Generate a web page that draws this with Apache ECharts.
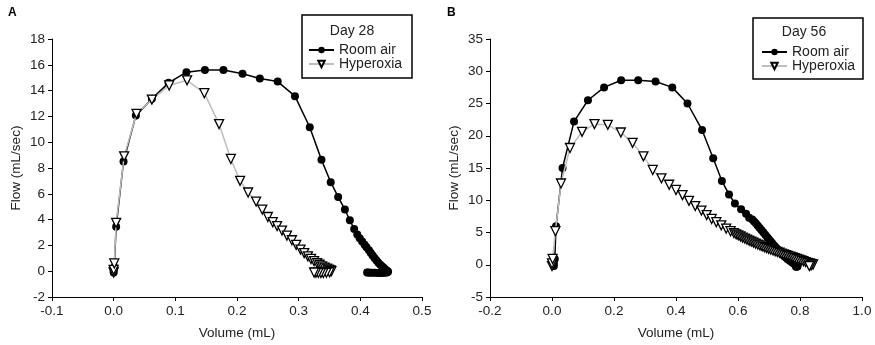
<!DOCTYPE html>
<html>
<head>
<meta charset="utf-8">
<script src="https://cdn.jsdelivr.net/npm/echarts@6/dist/echarts.min.js"></script>
<style>html,body{margin:0;padding:0;background:#fff}#c{width:875px;height:345px}</style>
</head>
<body>
<div id="c"></div>
<script>
// ---- Panel A: Day 28 ----
const vol28Room = [0, 0, 0.001, 0.004, 0.016, 0.036, 0.062, 0.089, 0.118, 0.148, 0.178, 0.209, 0.237, 0.266, 0.294, 0.318, 0.337, 0.352, 0.364, 0.375, 0.383, 0.390, 0.395, 0.399, 0.403, 0.407, 0.410, 0.414, 0.417, 0.420, 0.423, 0.426, 0.429, 0.432, 0.435, 0.438, 0.440, 0.442, 0.444, 0.445, 0.443, 0.440, 0.436, 0.432, 0.428, 0.424, 0.420, 0.416, 0.413, 0.411];
const flow28Room = [-0.1, 0.05, 0.3, 3.44, 8.5, 12.07, 13.36, 14.6, 15.43, 15.6, 15.6, 15.3, 14.94, 14.7, 13.57, 11.16, 8.63, 6.9, 5.76, 4.78, 3.95, 3.28, 2.85, 2.55, 2.3, 2.05, 1.85, 1.62, 1.42, 1.22, 1.03, 0.85, 0.68, 0.52, 0.38, 0.26, 0.16, 0.08, 0.02, -0.05, -0.1, -0.12, -0.13, -0.13, -0.13, -0.12, -0.12, -0.12, -0.11, -0.1];
const vol28Hyp = [0, 0, 0.001, 0.004, 0.017, 0.037, 0.062, 0.090, 0.119, 0.147, 0.171, 0.190, 0.205, 0.218, 0.231, 0.241, 0.250, 0.258, 0.265, 0.273, 0.281, 0.289, 0.296, 0.303, 0.309, 0.315, 0.320, 0.325, 0.330, 0.334, 0.338, 0.342, 0.346, 0.349, 0.352, 0.353, 0.350, 0.345, 0.340, 0.336, 0.332, 0.328, 0.325];
const flow28Hyp = [-0.1, 0.1, 0.6, 3.75, 8.9, 12.2, 13.3, 14.4, 14.8, 13.8, 11.4, 8.7, 7.0, 6.1, 5.4, 4.78, 4.2, 3.8, 3.5, 3.15, 2.76, 2.4, 2.04, 1.68, 1.4, 1.15, 0.95, 0.78, 0.62, 0.5, 0.38, 0.28, 0.2, 0.12, 0.06, 0.0, -0.08, -0.12, -0.14, -0.14, -0.13, -0.12, -0.1];

// ---- Panel B: Day 56 ----
const vol56Room = [0.006, 0.006, 0.009, 0.013, 0.034, 0.071, 0.116, 0.168, 0.223, 0.278, 0.334, 0.388, 0.437, 0.484, 0.520, 0.548, 0.571, 0.590, 0.610, 0.626, 0.636, 0.646, 0.652, 0.658, 0.664, 0.670, 0.676, 0.682, 0.688, 0.694, 0.700, 0.706, 0.712, 0.718, 0.724, 0.730, 0.736, 0.742, 0.748, 0.754, 0.760, 0.766, 0.772, 0.777, 0.782, 0.786, 0.789, 0.791, 0.792, 0.790, 0.787];
const flow56Room = [-0.2, 0.2, 0.9, 5.95, 15.0, 22.2, 25.5, 27.5, 28.6, 28.6, 28.4, 27.5, 25.0, 20.9, 16.5, 13.0, 10.9, 9.5, 8.6, 7.9, 7.3, 7.0, 6.7, 6.4, 6.05, 5.7, 5.35, 5.0, 4.65, 4.3, 3.95, 3.6, 3.25, 2.9, 2.58, 2.26, 1.95, 1.65, 1.37, 1.11, 0.87, 0.65, 0.45, 0.28, 0.12, 0.0, -0.1, -0.2, -0.25, -0.3, -0.3];
const vol56Hyp = [0, 0, 0.002, 0.011, 0.029, 0.058, 0.097, 0.137, 0.180, 0.222, 0.260, 0.295, 0.325, 0.353, 0.378, 0.400, 0.421, 0.442, 0.462, 0.482, 0.499, 0.515, 0.530, 0.546, 0.562, 0.576, 0.587, 0.594, 0.601, 0.608, 0.615, 0.622, 0.629, 0.636, 0.643, 0.650, 0.657, 0.664, 0.671, 0.678, 0.685, 0.692, 0.699, 0.706, 0.713, 0.720, 0.727, 0.734, 0.741, 0.748, 0.755, 0.762, 0.769, 0.776, 0.783, 0.790, 0.797, 0.804, 0.811, 0.818, 0.825, 0.832, 0.838, 0.842, 0.836, 0.830];
const flow56Hyp = [-0.2, 0.2, 0.9, 5.2, 12.6, 18.1, 20.6, 21.8, 21.7, 20.5, 18.9, 16.8, 14.7, 13.4, 12.4, 11.6, 10.8, 9.9, 9.1, 8.4, 7.7, 7.1, 6.6, 6.1, 5.6, 5.2, 4.9, 4.72, 4.55, 4.38, 4.21, 4.05, 3.89, 3.73, 3.58, 3.43, 3.28, 3.13, 2.99, 2.85, 2.72, 2.59, 2.46, 2.34, 2.22, 2.1, 1.98, 1.86, 1.74, 1.62, 1.5, 1.38, 1.26, 1.14, 1.02, 0.9, 0.78, 0.66, 0.54, 0.42, 0.3, 0.2, 0.1, 0.05, -0.1, -0.2];

const seriesNames = ['Room air', 'Hyperoxia'];
const legendTitles = ['Day 28', 'Day 56'];
const panelLabels = ['A', 'B'];
const xTicksA = {min: -0.1, max: 0.5, interval: 0.1};
const yTicksA = {min: -2, max: 18, interval: 2};
const xTicksB = {min: -0.2, max: 1.0, interval: 0.2};
const yTicksB = {min: -5, max: 35, interval: 5};

const zip = (xs, ys) => xs.map((x, i) => [x, ys[i]]);
const FONT = 'Liberation Sans, Arial, sans-serif';

function xAxisCfg(t, gi) {
  return {
    type: 'value', gridIndex: gi, min: t.min, max: t.max, interval: t.interval,
    name: 'Volume (mL)', nameLocation: 'middle', nameGap: 29,
    nameTextStyle: {fontFamily: FONT, fontSize: 13.5, color: '#222'},
    axisLine: {show: true, onZero: false, lineStyle: {color: '#000', width: 1}},
    axisTick: {show: true, length: 4, lineStyle: {color: '#000'}},
    axisLabel: {fontFamily: FONT, fontSize: 13.5, color: '#222', margin: 7,
      formatter: v => v.toFixed(1)},
    splitLine: {show: false}
  };
}
function yAxisCfg(t, gi) {
  return {
    type: 'value', gridIndex: gi, min: t.min, max: t.max, interval: t.interval,
    name: 'Flow (mL/sec)', nameLocation: 'middle', nameGap: 29,
    nameTextStyle: {fontFamily: FONT, fontSize: 13.5, color: '#222'},
    axisLine: {show: true, onZero: false, lineStyle: {color: '#000', width: 1}},
    axisTick: {show: true, length: 4, lineStyle: {color: '#000'}},
    axisLabel: {fontFamily: FONT, fontSize: 13.5, color: '#222', margin: 7,
      formatter: v => String(Math.round(v))},
    splitLine: {show: false}
  };
}
function roomSeries(data, gi) {
  return {
    name: seriesNames[0], type: 'line', xAxisIndex: gi, yAxisIndex: gi, data: data,
    symbol: 'circle', symbolSize: 8, showSymbol: true, animation: false,
    lineStyle: {color: '#000', width: 1.5},
    itemStyle: {color: '#000', borderColor: '#000', borderWidth: 0},
    z: 2
  };
}
function hypSeries(data, gi) {
  return {
    name: seriesNames[1], type: 'line', xAxisIndex: gi, yAxisIndex: gi, data: data,
    symbol: 'triangle', symbolRotate: 180, symbolSize: 9, showSymbol: true, animation: false,
    lineStyle: {color: '#bdbdbd', width: 1.5},
    itemStyle: {color: '#fff', borderColor: '#000', borderWidth: 1.3},
    z: 3
  };
}
function legendCfg(left, top) {
  return {
    data: seriesNames, orient: 'vertical', left: left, top: top,
    itemWidth: 25, itemHeight: 8, itemGap: 0, padding: 0,
    textStyle: {fontFamily: FONT, fontSize: 14, color: '#222'},
    selectedMode: false
  };
}

const chart = echarts.init(document.getElementById('c'), null, {renderer: 'canvas'});
chart.setOption({
  backgroundColor: '#fff',
  animation: false,
  grid: [
    {left: 52, top: 39, width: 370, height: 258},
    {left: 490, top: 39, width: 372, height: 258}
  ],
  xAxis: [xAxisCfg(xTicksA, 0), xAxisCfg(xTicksB, 1)],
  yAxis: [yAxisCfg(yTicksA, 0), yAxisCfg(yTicksB, 1)],
  legend: [legendCfg(308, 43), legendCfg(761, 45)],
  graphic: [
    {type: 'rect', shape: {x: 302, y: 15, width: 110, height: 63}, style: {fill: '#fff', stroke: '#000', lineWidth: 1.5}, z: 0},
    {type: 'text', x: 352, y: 31, style: {text: legendTitles[0], font: '14px ' + FONT, fill: '#222', align: 'center', verticalAlign: 'middle'}},
    {type: 'rect', shape: {x: 753, y: 18, width: 110, height: 61}, style: {fill: '#fff', stroke: '#000', lineWidth: 1.5}, z: 0},
    {type: 'text', x: 804, y: 32, style: {text: legendTitles[1], font: '14px ' + FONT, fill: '#222', align: 'center', verticalAlign: 'middle'}},
    {type: 'text', x: 8, y: 13, style: {text: panelLabels[0], font: 'bold 12px ' + FONT, fill: '#000', verticalAlign: 'middle'}},
    {type: 'text', x: 447, y: 13, style: {text: panelLabels[1], font: 'bold 12px ' + FONT, fill: '#000', verticalAlign: 'middle'}}
  ],
  series: [
    roomSeries(zip(vol28Room, flow28Room), 0),
    hypSeries(zip(vol28Hyp, flow28Hyp), 0),
    roomSeries(zip(vol56Room, flow56Room), 1),
    hypSeries(zip(vol56Hyp, flow56Hyp), 1)
  ]
});
</script>
</body>
</html>
